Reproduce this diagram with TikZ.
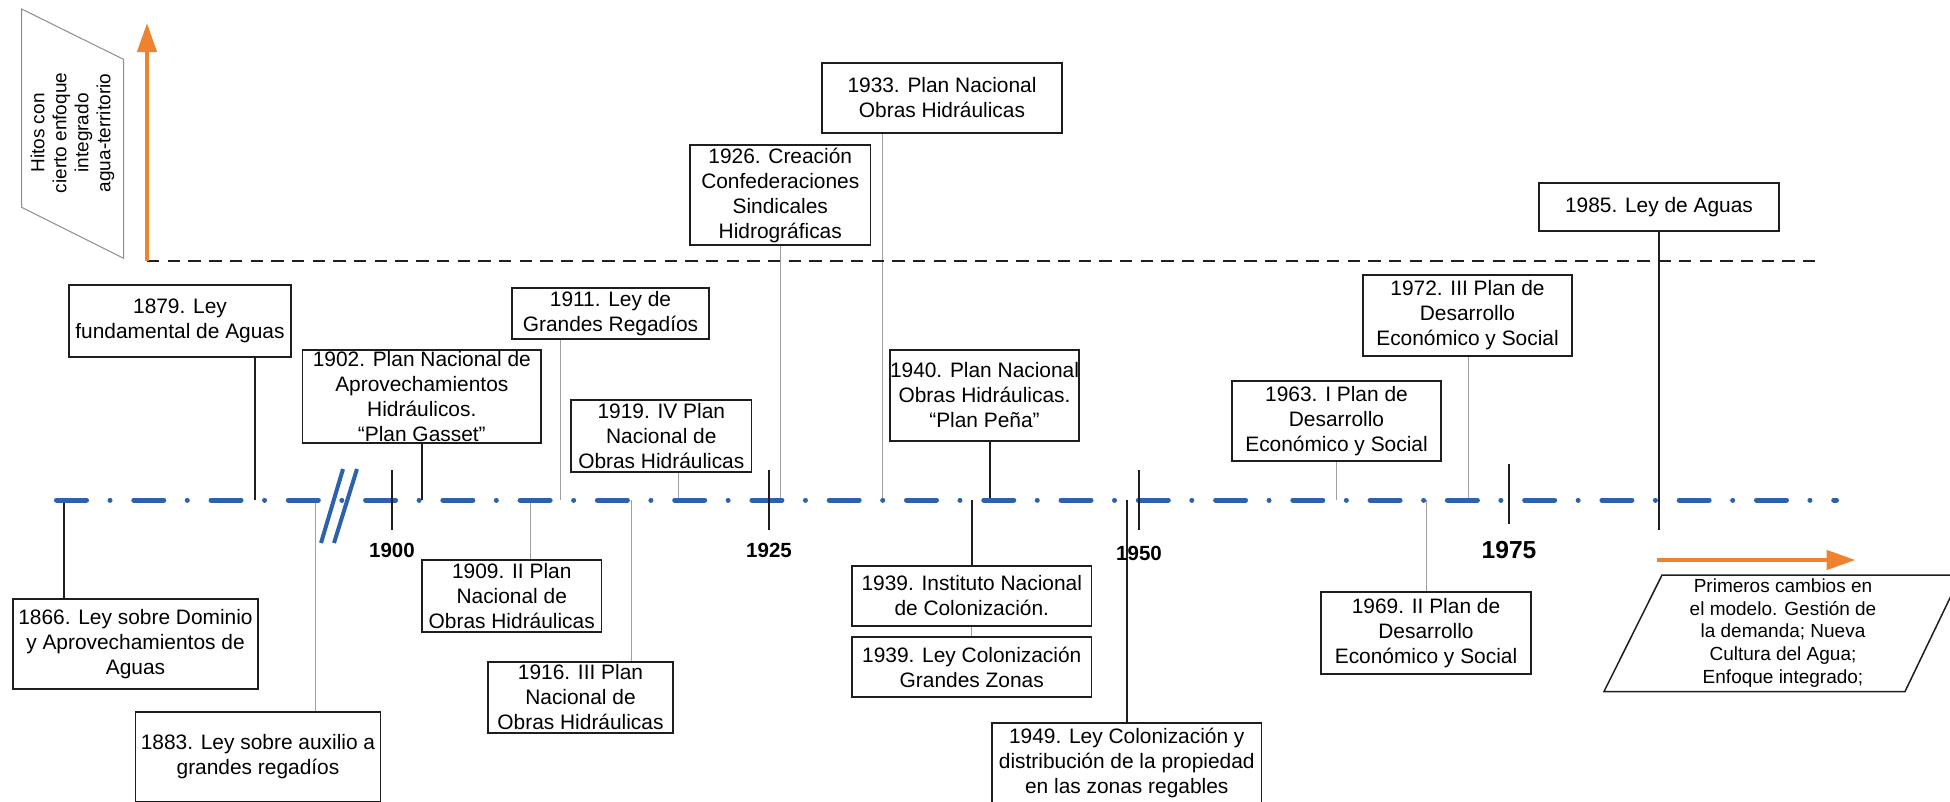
\documentclass[tikz,border=0pt]{standalone}
\usepackage{fontspec}
\setmainfont{Liberation Sans}
\usetikzlibrary{arrows.meta}

\definecolor{axisblue}{RGB}{44,97,174}
\definecolor{trendorange}{RGB}{238,130,48}
\definecolor{leadgray}{RGB}{160,160,160}
\definecolor{inkblack}{RGB}{30,30,30}

\begin{document}
\begin{tikzpicture}[x=1pt,y=-1pt,
  evt/.style={draw=inkblack, line width=1.5pt, fill=white, inner sep=0pt, align=center,
              font=\fontsize{20.9}{25}\selectfont},
  lead/.style={line width=1.8pt, draw=inkblack},
  faint/.style={line width=1pt, draw=leadgray},
  yeartick/.style={line width=2pt, draw=inkblack},
  yearlbl/.style={inner sep=0pt, font=\fontsize{20.5}{24}\selectfont\bfseries},
  timeaxis/.style={line width=5pt, draw=axisblue, line cap=round,
                   dash pattern=on 30pt off 23.5pt on 0.01pt off 23.76pt},
  breakmark/.style={line width=4pt, draw=axisblue},
  threshold/.style={line width=2pt, draw=inkblack, dash pattern=on 12.4pt off 8.3pt},
  trend/.style={line width=4.5pt, draw=trendorange,
                -{Triangle[length=29pt,width=19pt,fill=trendorange]}},
  noteframe/.style={line width=1.5pt, draw=inkblack}
]
\useasboundingbox (0,0) rectangle (1950,801);
\clip (0,0) rectangle (1950,801);

% ---------------- milestone boxes ----------------
\node[evt, minimum width=245pt,   minimum height=90pt] (b1866)  at (135.5,644)   {1866. Ley sobre Dominio\\y Aprovechamientos de\\Aguas};
\node[evt, minimum width=222pt,   minimum height=72pt] (b1879)  at (180,321)     {1879. Ley\\fundamental de Aguas};
\node[evt, minimum width=245pt,   minimum height=90pt] (b1883)  at (258,757)     {1883. Ley sobre auxilio a\\grandes regadíos};
\node[evt, minimum width=238.4pt, minimum height=93pt] (b1902)  at (421.8,396.5) {1902. Plan Nacional de\\Aprovechamientos\\Hidráulicos.\\“Plan Gasset”};
\node[evt, minimum width=179.5pt, minimum height=72pt] (b1909)  at (511.75,596)  {1909. II Plan\\Nacional de\\Obras Hidráulicas};
\node[evt, minimum width=197pt,   minimum height=51pt] (b1911)  at (610.5,313.5) {1911. Ley de\\Grandes Regadíos};
\node[evt, minimum width=185pt,   minimum height=71pt] (b1916)  at (580.5,697.5) {1916. III Plan\\Nacional de\\Obras Hidráulicas};
\node[evt, minimum width=180.6pt, minimum height=72pt] (b1919)  at (661.3,436)   {1919. IV Plan\\Nacional de\\Obras Hidráulicas};
\node[evt, minimum width=180.5pt, minimum height=100pt] (b1926) at (780.25,195)  {1926. Creación\\Confederaciones\\Sindicales\\Hidrográficas};
\node[evt, minimum width=240pt,   minimum height=70pt] (b1933)  at (942,98)      {1933. Plan Nacional\\Obras Hidráulicas};
\node[evt, minimum width=239.5pt, minimum height=60pt] (b1939a) at (971.75,596)  {1939. Instituto Nacional\\de Colonización.};
\node[evt, minimum width=239.5pt, minimum height=60pt] (b1939b) at (971.75,667)  {1939. Ley Colonización\\Grandes Zonas};
\node[evt, minimum width=187pt,   minimum height=91pt] (b1940)  at (984.5,395.5) {1940. Plan Nacional\\Obras Hidráulicas.\\“Plan Peña”};
\node[evt, minimum width=269.5pt, minimum height=80pt] (b1949)  at (1126.75,763) {1949. Ley Colonización y\\distribución de la propiedad\\en las zonas regables};
\node[evt, minimum width=209pt,   minimum height=80pt] (b1963)  at (1336.5,421)  {1963. I Plan de\\Desarrollo\\Económico y Social};
\node[evt, minimum width=210pt,   minimum height=82pt] (b1969)  at (1426,633)    {1969. II Plan de\\Desarrollo\\Económico y Social};
\node[evt, minimum width=209pt,   minimum height=81pt] (b1972)  at (1467.5,315.5) {1972. III Plan de\\Desarrollo\\Económico y Social};
\node[evt, minimum width=240pt,   minimum height=48pt] (b1985)  at (1659,207)    {1985. Ley de Aguas};

% ---------------- anchor points on the time axis ----------------
\coordinate (a1866) at (64,500);
\coordinate (a1879) at (255,500);
\coordinate (a1883) at (315,500);
\coordinate (a1902) at (422,500);
\coordinate (a1909) at (530,500);
\coordinate (a1911) at (560,500);
\coordinate (a1916) at (631,500);
\coordinate (a1919) at (678,500);
\coordinate (a1926) at (780.6,500);
\coordinate (a1933) at (882,500);
\coordinate (a1939) at (971.75,500);
\coordinate (a1940) at (990,500);
\coordinate (a1949) at (1127,500);
\coordinate (a1963) at (1336.5,500);
\coordinate (a1969) at (1426,500);
\coordinate (a1972) at (1468,500);
\coordinate (e1985) at (1659,530);

% ---------------- leader lines ----------------
\draw[lead]  (a1866) -- (a1866 |- b1866.north);
\draw[lead]  (a1879) -- (a1879 |- b1879.south);
\draw[faint] (a1883) -- (a1883 |- b1883.north);
\draw[lead]  (a1902) -- (a1902 |- b1902.south);
\draw[faint] (a1909) -- (a1909 |- b1909.north);
\draw[faint] (a1911) -- (a1911 |- b1911.south);
\draw[faint] (a1916) -- (a1916 |- b1916.north);
\draw[faint] (a1919) -- (a1919 |- b1919.south);
\draw[faint] (a1926) -- (a1926 |- b1926.south);
\draw[faint] (a1933) -- (a1933 |- b1933.south);
\draw[lead]  (a1939) -- (b1939a.north);
\draw[faint] (b1939a.south) -- (b1939b.north);
\draw[lead]  (a1940) -- (a1940 |- b1940.south);
\draw[lead]  (a1949) -- (a1949 |- b1949.north);
\draw[faint] (a1963) -- (a1963 |- b1963.south);
\draw[faint] (a1969) -- (a1969 |- b1969.north);
\draw[faint] (a1972) -- (a1972 |- b1972.south);

% ---------------- integrated-approach threshold ----------------
\coordinate (thL) at (147,261);
\coordinate (thR) at (1816,261);
\coordinate (upTip) at (147,23);
\draw[threshold] (thL) -- (thR);
\draw[trend] (thL) -- (upTip);

% side label in a slanted frame
\coordinate (p1) at (21.6,9);
\coordinate (p2) at (123.5,59.3);
\coordinate (p3) at (123.5,258.3);
\coordinate (p4) at (21.6,207.3);
\draw[line width=1pt, draw=black!45] (p1) -- (p2) -- (p3) -- (p4) -- cycle;
\node[rotate=90, align=center, inner sep=0pt, font=\fontsize{19}{22}\selectfont] (hitos) at (72.5,133)
  {Hitos con\\cierto enfoque\\integrado\\agua-territorio};

% ---------------- time axis ----------------
\coordinate (axL) at (56.5,500);
\coordinate (axR) at (1836.5,500);
\draw[timeaxis] (axL) -- (axR);
\coordinate (br1a) at (343,469);
\coordinate (br1b) at (321,543);
\coordinate (br2a) at (357,469);
\coordinate (br2b) at (334,543);
\draw[breakmark] (br1a) -- (br1b);
\draw[breakmark] (br2a) -- (br2b);

\draw[lead] (b1985.south) -- (e1985);

% year ticks and labels
\coordinate (t1900a) at (392,470);  \coordinate (t1900b) at (392,530);
\coordinate (t1925a) at (769,470);  \coordinate (t1925b) at (769,530);
\coordinate (t1950a) at (1139,470); \coordinate (t1950b) at (1139,530);
\coordinate (t1975a) at (1509,464); \coordinate (t1975b) at (1509,524);
\draw[yeartick] (t1900a) -- (t1900b);
\draw[yeartick] (t1925a) -- (t1925b);
\draw[yeartick] (t1950a) -- (t1950b);
\draw[yeartick] (t1975a) -- (t1975b);
\node[yearlbl] (l1900) at (392,550) {1900};
\node[yearlbl] (l1925) at (769,550) {1925};
\node[yearlbl] (l1950) at (1139,553) {1950};
\node[yearlbl, font=\fontsize{24.6}{28}\selectfont\bfseries] (l1975) at (1509,550) {1975};

% ---------------- recent changes ----------------
\coordinate (rtStart) at (1657,560);
\coordinate (rtTip) at (1855.5,560);
\draw[trend] (rtStart) -- (rtTip);
\coordinate (q1) at (1662,575);
\coordinate (q2) at (1961,575);
\coordinate (q3) at (1905,691.5);
\coordinate (q4) at (1604,691.5);
\draw[noteframe] (q1) -- (q2) -- (q3) -- (q4) -- cycle;
\node[align=center, inner sep=0pt, font=\fontsize{19}{22.8}\selectfont] (cambios) at (1783,633)
  {Primeros cambios en\\el modelo. Gestión de\\la demanda; Nueva\\Cultura del Agua;\\Enfoque integrado;};
\end{tikzpicture}
\end{document}
